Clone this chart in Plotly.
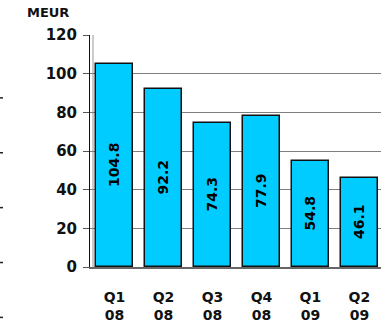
import plotly.graph_objects as go

# Quarterly values, MEUR
quarters = ["Q1<br>08", "Q2<br>08", "Q3<br>08", "Q4<br>08", "Q1<br>09", "Q2<br>09"]
values = [104.8, 92.2, 74.3, 77.9, 54.8, 46.1]
y_ticks = [0, 20, 40, 60, 80, 100, 120]

FONT = "DejaVu Sans"
BAR_COLOR = "#00CCFF"
GRID = "#7f7f7f"

fig = go.Figure(
    go.Bar(
        x=list(range(len(quarters))),
        y=values,
        width=0.76,
        marker=dict(color=BAR_COLOR, line=dict(color="#111111", width=1.5)),
        text=[f"{v:.1f}" for v in values],
        textposition="inside",
        insidetextanchor="middle",
        textangle=-90,
        textfont=dict(family=FONT, size=14, color="#000000", weight="bold"),
        cliponaxis=False,
    )
)

fig.update_layout(
    width=381,
    height=328,
    margin=dict(l=90, r=0, t=35, b=61),
    paper_bgcolor="white",
    plot_bgcolor="white",
    showlegend=False,
    bargap=0,
    font=dict(family=FONT, color="#111111"),
    xaxis=dict(
        range=[-0.5, 5.44],
        tickvals=list(range(len(quarters))),
        ticktext=[f"<b>{q}</b>" for q in quarters],
        tickfont=dict(family=FONT, size=14, color="#111111"),
        showgrid=False,
        zeroline=False,
        showline=True,
        linecolor="#666666",
        linewidth=2,
        ticks="",
        ticklabelstandoff=16,
    ),
    yaxis=dict(
        range=[0, 120],
        tickvals=y_ticks,
        ticktext=[f"<b>{t}</b>" for t in y_ticks],
        tickfont=dict(family=FONT, size=15, color="#111111"),
        showgrid=True,
        gridcolor=GRID,
        gridwidth=1,
        zeroline=False,
        showline=True,
        linecolor="#111111",
        linewidth=1,
        ticks="outside",
        ticklen=6,
        tickcolor="#555555",
        ticklabelstandoff=3,
    ),
    annotations=[
        dict(
            text="<b>MEUR</b>",
            xref="paper", yref="paper",
            x=-65 / 291, y=1 + 23 / 232.5,
            xanchor="left", yanchor="middle",
            showarrow=False,
            font=dict(family=FONT, size=13, color="#111111"),
        )
    ],
    shapes=[
        # inner grey edge beside the value axis
        dict(type="line", xref="paper", yref="paper",
             x0=3 / 291, x1=3 / 291, y0=0, y1=1,
             line=dict(color="#999999", width=1), layer="below"),
    ]
    # short marks along the far left edge
    + [
        dict(type="line", xref="paper", yref="paper",
             x0=-90 / 291, x1=-87 / 291,
             y0=(267.5 - yy) / 232.5, y1=(267.5 - yy) / 232.5,
             line=dict(color="#222222", width=1.5))
        for yy in (98, 153, 208, 263, 318)
    ],
)

fig.write_html("out.html")
